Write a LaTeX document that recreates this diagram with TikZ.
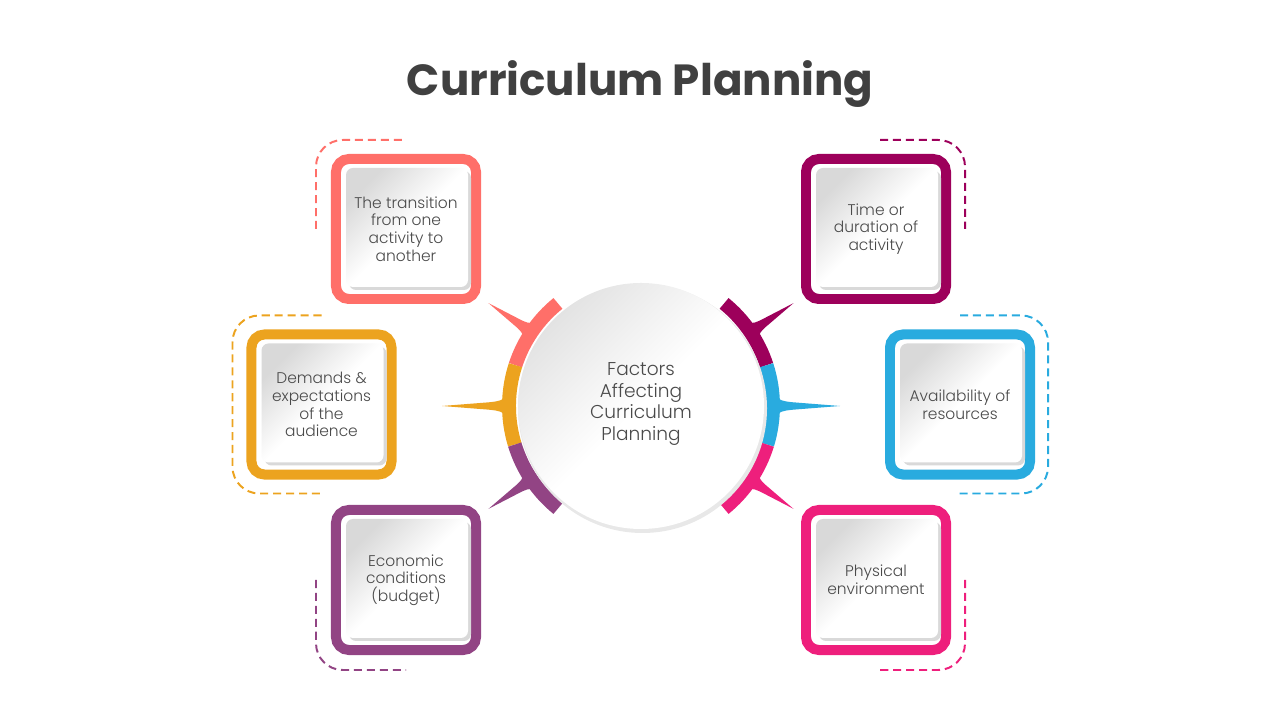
\documentclass[tikz,border=0pt]{standalone}
\usepackage{fontspec}
\setmainfont{Poppins}
\newfontfamily\lightfont{Poppins Light}
\usetikzlibrary{calc}
\definecolor{coral}{HTML}{FF6F69}
\definecolor{amber}{HTML}{ECA31F}
\definecolor{plum}{HTML}{924484}
\definecolor{wine}{HTML}{9D005B}
\definecolor{sky}{HTML}{29ABDF}
\definecolor{rose}{HTML}{EE1F7C}
\definecolor{ink}{HTML}{404040}
\definecolor{txt}{HTML}{4A4A4A}
\begin{document}
\begin{tikzpicture}[x=0.025cm,y=0.025cm,
	factor/.style={draw=#1,fill=white,line width=7.1pt,rounded corners=9.2pt,minimum size=3.5cm,inner sep=0pt},
	bracket/.style={draw=#1,line width=1.4pt,dash pattern=on 5.7pt off 3.5pt,rounded corners=19pt},
	ring/.style={draw=#1,line width=9.9pt},
	factortext/.style={text=txt,font=\lightfont\fontsize{11}{12.6}\selectfont,align=center},
	panel/.style={top color=black!15,bottom color=white,middle color=white,shading angle=45,rounded corners=5pt}]
	\useasboundingbox (0,0) rectangle (1280,720);
	\node[font=\fontsize{31}{38}\selectfont\bfseries,text=ink] (title) at (640,636) {Curriculum Planning};
	% the six factor boxes
	\node[factor=coral] (transition) at (406,491) {};
	\node[factor=amber] (demands) at (321.5,315.5) {};
	\node[factor=plum] (economy) at (406,140) {};
	\node[factor=wine] (duration) at (876,491) {};
	\node[factor=sky] (resources) at (960,315.5) {};
	\node[factor=rose] (environment) at (876,140) {};
	\foreach \b in {transition,demands,economy,duration,resources,environment}{
		\fill[black!15,rounded corners=5pt] ($(\b)+(-57,-61)$) rectangle ($(\b)+(65,58)$);
		\shade[panel] ($(\b)+(-60,-58)$) rectangle ($(\b)+(62,61)$);
	}
	\node[factortext] (t1) at (transition) {The transition\\from one\\activity to\\another};
	\node[factortext] (t2) at (demands) {Demands \&\\expectations\\of the\\audience};
	\node[factortext] (t3) at (economy) {Economic\\conditions\\(budget)};
	\node[factortext] (t4) at (duration) {Time or\\duration of\\activity};
	\node[factortext] (t5) at (resources) {Availability of\\resources};
	\node[factortext] (t6) at (environment) {Physical\\environment};
	% dashed corners
	\draw[bracket=coral] ($(transition.west)+(-15,0)$) |- ($(transition.north)+(-4,14)$);
	\draw[bracket=amber] ($(demands.north)+(0,14)$) -| ($(demands.west)+(-14,0)$) |- ($(demands.south)+(0,-14)$);
	\draw[bracket=plum] ($(economy.west)+(-15,0)$) |- ($(economy.south)+(0,-15)$);
	\draw[bracket=wine] ($(duration.north)+(4,14)$) -| ($(duration.east)+(14,0)$);
	\draw[bracket=sky] ($(resources.north)+(0,14)$) -| ($(resources.east)+(13,0)$) |- ($(resources.south)+(-2,-14)$);
	\draw[bracket=rose] ($(environment.east)+(14,0)$) |- ($(environment.south)+(0,-15)$);
	% centre circle with ring and spikes
	\begin{scope}[shift={(641,314)}]
		\foreach \a/\r/\c in {146/184/coral,180/199/amber,214/184/plum,34/184/wine,0/199/sky,-34/184/rose}{
			\fill[\c] ({\a+5}:131) .. controls ({\a+2}:141) .. ({\a+1.4}:152) -- (\a:\r) -- ({\a-1.4}:152) .. controls ({\a-2}:141) .. ({\a-5}:131) -- cycle;
		}
		\draw[ring=coral] (129:132) arc (129:162:132);
		\draw[ring=amber] (162:132) arc (162:197:132);
		\draw[ring=plum] (197:132) arc (197:231:132);
		\draw[ring=wine] (51:132) arc (51:18:132);
		\draw[ring=sky] (18:132) arc (18:-17:132);
		\draw[ring=rose] (-17:132) arc (-17:-51:132);
		\fill[black!9] (1.5,-2.5) circle (124.5);
		\shade[top color=black!11,bottom color=white,middle color=white,shading angle=45] (0,0) circle (123);
		\node[text=txt,font=\lightfont\fontsize{13.2}{15.6}\selectfont,align=center] (core) at (0,2) {Factors\\Affecting\\Curriculum\\Planning};
	\end{scope}
\end{tikzpicture}
\end{document}
